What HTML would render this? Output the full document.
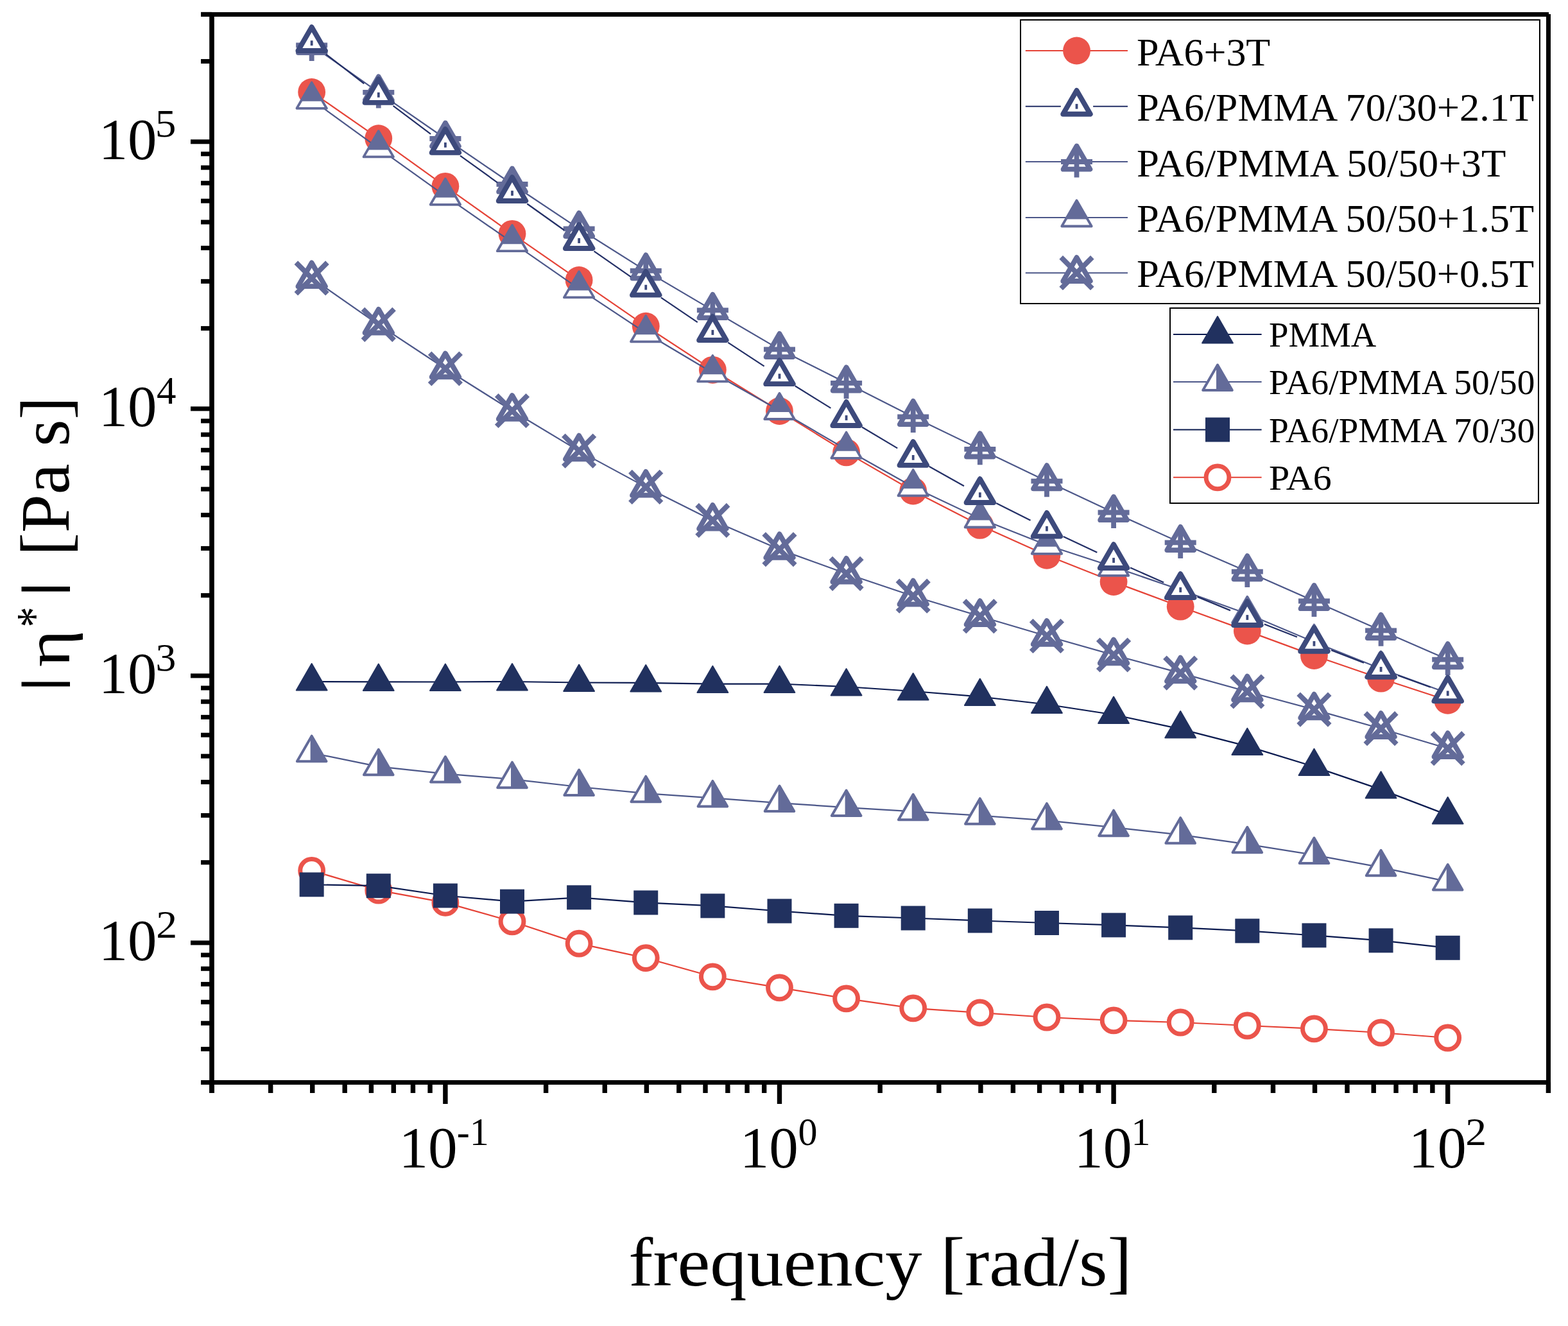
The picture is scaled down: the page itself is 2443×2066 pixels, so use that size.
<!DOCTYPE html>
<html><head><meta charset="utf-8"><title>Complex viscosity vs frequency</title>
<style>html,body{margin:0;padding:0;background:#fff;}svg{display:block;}</style></head>
<body>
<svg width="2443" height="2066" viewBox="0 0 2443 2066" font-family="'Liberation Serif', serif">
<rect width="2443" height="2066" fill="#fff"/>
<polyline points="485.64,1062 589.76,1062.4 693.88,1062.5 798,1062 902.12,1063.5 1006.24,1063.9 1110.36,1065.6 1214.48,1065.5 1318.6,1070 1422.72,1077 1526.84,1085.5 1630.96,1097.5 1735.08,1113.5 1839.2,1135.9 1943.32,1162.6 2047.44,1194.6 2151.56,1230.1 2255.68,1269.9" fill="none" stroke="#0b1a4f" stroke-width="2.2" stroke-linejoin="round"/>
<polygon points="485.64,1034.1 509.55,1075.5 461.74,1075.5" fill="#21315f" stroke="#21315f" stroke-width="2" stroke-linejoin="round"/><polygon points="589.76,1034.5 613.67,1075.9 565.86,1075.9" fill="#21315f" stroke="#21315f" stroke-width="2" stroke-linejoin="round"/><polygon points="693.88,1034.6 717.79,1076 669.98,1076" fill="#21315f" stroke="#21315f" stroke-width="2" stroke-linejoin="round"/><polygon points="798,1034.1 821.91,1075.5 774.1,1075.5" fill="#21315f" stroke="#21315f" stroke-width="2" stroke-linejoin="round"/><polygon points="902.12,1035.6 926.03,1077 878.22,1077" fill="#21315f" stroke="#21315f" stroke-width="2" stroke-linejoin="round"/><polygon points="1006.24,1036 1030.15,1077.4 982.34,1077.4" fill="#21315f" stroke="#21315f" stroke-width="2" stroke-linejoin="round"/><polygon points="1110.36,1037.7 1134.27,1079.1 1086.46,1079.1" fill="#21315f" stroke="#21315f" stroke-width="2" stroke-linejoin="round"/><polygon points="1214.48,1037.6 1238.39,1079 1190.58,1079" fill="#21315f" stroke="#21315f" stroke-width="2" stroke-linejoin="round"/><polygon points="1318.6,1042.1 1342.51,1083.5 1294.7,1083.5" fill="#21315f" stroke="#21315f" stroke-width="2" stroke-linejoin="round"/><polygon points="1422.72,1049.1 1446.63,1090.5 1398.82,1090.5" fill="#21315f" stroke="#21315f" stroke-width="2" stroke-linejoin="round"/><polygon points="1526.84,1057.6 1550.75,1099 1502.94,1099" fill="#21315f" stroke="#21315f" stroke-width="2" stroke-linejoin="round"/><polygon points="1630.96,1069.6 1654.87,1111 1607.06,1111" fill="#21315f" stroke="#21315f" stroke-width="2" stroke-linejoin="round"/><polygon points="1735.08,1085.6 1758.99,1127 1711.18,1127" fill="#21315f" stroke="#21315f" stroke-width="2" stroke-linejoin="round"/><polygon points="1839.2,1108 1863.11,1149.4 1815.3,1149.4" fill="#21315f" stroke="#21315f" stroke-width="2" stroke-linejoin="round"/><polygon points="1943.32,1134.7 1967.23,1176.1 1919.42,1176.1" fill="#21315f" stroke="#21315f" stroke-width="2" stroke-linejoin="round"/><polygon points="2047.44,1166.7 2071.35,1208.1 2023.54,1208.1" fill="#21315f" stroke="#21315f" stroke-width="2" stroke-linejoin="round"/><polygon points="2151.56,1202.2 2175.47,1243.6 2127.66,1243.6" fill="#21315f" stroke="#21315f" stroke-width="2" stroke-linejoin="round"/><polygon points="2255.68,1242 2279.59,1283.4 2231.78,1283.4" fill="#21315f" stroke="#21315f" stroke-width="2" stroke-linejoin="round"/>
<polyline points="485.64,1173.2 589.76,1194.3 693.88,1205.6 798,1214.2 902.12,1226 1006.24,1236.2 1110.36,1243.4 1214.48,1251.1 1318.6,1258.1 1422.72,1264.3 1526.84,1270.7 1630.96,1278.4 1735.08,1289.2 1839.2,1300.7 1943.32,1315.3 2047.44,1332.1 2151.56,1351.3 2255.68,1373.6" fill="none" stroke="#4c5789" stroke-width="2.2" stroke-linejoin="round"/>
<polygon points="485.64,1146.7 508.45,1186.2 462.84,1186.2" fill="#fff" stroke="#636b99" stroke-width="4" stroke-linejoin="round"/><polygon points="483.64,1150.16 485.64,1146.7 508.45,1186.2 483.64,1186.2" fill="#636b99"/><polygon points="589.76,1167.8 612.57,1207.3 566.96,1207.3" fill="#fff" stroke="#636b99" stroke-width="4" stroke-linejoin="round"/><polygon points="587.76,1171.26 589.76,1167.8 612.57,1207.3 587.76,1207.3" fill="#636b99"/><polygon points="693.88,1179.1 716.69,1218.6 671.08,1218.6" fill="#fff" stroke="#636b99" stroke-width="4" stroke-linejoin="round"/><polygon points="691.88,1182.56 693.88,1179.1 716.69,1218.6 691.88,1218.6" fill="#636b99"/><polygon points="798,1187.7 820.81,1227.2 775.2,1227.2" fill="#fff" stroke="#636b99" stroke-width="4" stroke-linejoin="round"/><polygon points="796,1191.16 798,1187.7 820.81,1227.2 796,1227.2" fill="#636b99"/><polygon points="902.12,1199.5 924.93,1239 879.32,1239" fill="#fff" stroke="#636b99" stroke-width="4" stroke-linejoin="round"/><polygon points="900.12,1202.96 902.12,1199.5 924.93,1239 900.12,1239" fill="#636b99"/><polygon points="1006.24,1209.7 1029.05,1249.2 983.44,1249.2" fill="#fff" stroke="#636b99" stroke-width="4" stroke-linejoin="round"/><polygon points="1004.24,1213.16 1006.24,1209.7 1029.05,1249.2 1004.24,1249.2" fill="#636b99"/><polygon points="1110.36,1216.9 1133.17,1256.4 1087.56,1256.4" fill="#fff" stroke="#636b99" stroke-width="4" stroke-linejoin="round"/><polygon points="1108.36,1220.36 1110.36,1216.9 1133.17,1256.4 1108.36,1256.4" fill="#636b99"/><polygon points="1214.48,1224.6 1237.29,1264.1 1191.68,1264.1" fill="#fff" stroke="#636b99" stroke-width="4" stroke-linejoin="round"/><polygon points="1212.48,1228.06 1214.48,1224.6 1237.29,1264.1 1212.48,1264.1" fill="#636b99"/><polygon points="1318.6,1231.6 1341.41,1271.1 1295.8,1271.1" fill="#fff" stroke="#636b99" stroke-width="4" stroke-linejoin="round"/><polygon points="1316.6,1235.06 1318.6,1231.6 1341.41,1271.1 1316.6,1271.1" fill="#636b99"/><polygon points="1422.72,1237.8 1445.53,1277.3 1399.92,1277.3" fill="#fff" stroke="#636b99" stroke-width="4" stroke-linejoin="round"/><polygon points="1420.72,1241.26 1422.72,1237.8 1445.53,1277.3 1420.72,1277.3" fill="#636b99"/><polygon points="1526.84,1244.2 1549.65,1283.7 1504.04,1283.7" fill="#fff" stroke="#636b99" stroke-width="4" stroke-linejoin="round"/><polygon points="1524.84,1247.66 1526.84,1244.2 1549.65,1283.7 1524.84,1283.7" fill="#636b99"/><polygon points="1630.96,1251.9 1653.77,1291.4 1608.16,1291.4" fill="#fff" stroke="#636b99" stroke-width="4" stroke-linejoin="round"/><polygon points="1628.96,1255.36 1630.96,1251.9 1653.77,1291.4 1628.96,1291.4" fill="#636b99"/><polygon points="1735.08,1262.7 1757.89,1302.2 1712.28,1302.2" fill="#fff" stroke="#636b99" stroke-width="4" stroke-linejoin="round"/><polygon points="1733.08,1266.16 1735.08,1262.7 1757.89,1302.2 1733.08,1302.2" fill="#636b99"/><polygon points="1839.2,1274.2 1862.01,1313.7 1816.4,1313.7" fill="#fff" stroke="#636b99" stroke-width="4" stroke-linejoin="round"/><polygon points="1837.2,1277.66 1839.2,1274.2 1862.01,1313.7 1837.2,1313.7" fill="#636b99"/><polygon points="1943.32,1288.8 1966.13,1328.3 1920.52,1328.3" fill="#fff" stroke="#636b99" stroke-width="4" stroke-linejoin="round"/><polygon points="1941.32,1292.26 1943.32,1288.8 1966.13,1328.3 1941.32,1328.3" fill="#636b99"/><polygon points="2047.44,1305.6 2070.25,1345.1 2024.64,1345.1" fill="#fff" stroke="#636b99" stroke-width="4" stroke-linejoin="round"/><polygon points="2045.44,1309.06 2047.44,1305.6 2070.25,1345.1 2045.44,1345.1" fill="#636b99"/><polygon points="2151.56,1324.8 2174.37,1364.3 2128.76,1364.3" fill="#fff" stroke="#636b99" stroke-width="4" stroke-linejoin="round"/><polygon points="2149.56,1328.26 2151.56,1324.8 2174.37,1364.3 2149.56,1364.3" fill="#636b99"/><polygon points="2255.68,1347.1 2278.49,1386.6 2232.88,1386.6" fill="#fff" stroke="#636b99" stroke-width="4" stroke-linejoin="round"/><polygon points="2253.68,1350.56 2255.68,1347.1 2278.49,1386.6 2253.68,1386.6" fill="#636b99"/>
<polyline points="485.64,1356.4 589.76,1387.2 693.88,1406.4 798,1435.8 902.12,1470.1 1006.24,1492.6 1110.36,1521.8 1214.48,1538.8 1318.6,1555.8 1422.72,1570.8 1526.84,1577.9 1630.96,1585 1735.08,1589.8 1839.2,1593 1943.32,1598 2047.44,1602.8 2151.56,1609 2255.68,1617" fill="none" stroke="#e54236" stroke-width="2.2" stroke-linejoin="round"/>
<circle cx="485.64" cy="1356.4" r="17.9" fill="#fff" stroke="#eb544b" stroke-width="7"/><circle cx="589.76" cy="1387.2" r="17.9" fill="#fff" stroke="#eb544b" stroke-width="7"/><circle cx="693.88" cy="1406.4" r="17.9" fill="#fff" stroke="#eb544b" stroke-width="7"/><circle cx="798" cy="1435.8" r="17.9" fill="#fff" stroke="#eb544b" stroke-width="7"/><circle cx="902.12" cy="1470.1" r="17.9" fill="#fff" stroke="#eb544b" stroke-width="7"/><circle cx="1006.24" cy="1492.6" r="17.9" fill="#fff" stroke="#eb544b" stroke-width="7"/><circle cx="1110.36" cy="1521.8" r="17.9" fill="#fff" stroke="#eb544b" stroke-width="7"/><circle cx="1214.48" cy="1538.8" r="17.9" fill="#fff" stroke="#eb544b" stroke-width="7"/><circle cx="1318.6" cy="1555.8" r="17.9" fill="#fff" stroke="#eb544b" stroke-width="7"/><circle cx="1422.72" cy="1570.8" r="17.9" fill="#fff" stroke="#eb544b" stroke-width="7"/><circle cx="1526.84" cy="1577.9" r="17.9" fill="#fff" stroke="#eb544b" stroke-width="7"/><circle cx="1630.96" cy="1585" r="17.9" fill="#fff" stroke="#eb544b" stroke-width="7"/><circle cx="1735.08" cy="1589.8" r="17.9" fill="#fff" stroke="#eb544b" stroke-width="7"/><circle cx="1839.2" cy="1593" r="17.9" fill="#fff" stroke="#eb544b" stroke-width="7"/><circle cx="1943.32" cy="1598" r="17.9" fill="#fff" stroke="#eb544b" stroke-width="7"/><circle cx="2047.44" cy="1602.8" r="17.9" fill="#fff" stroke="#eb544b" stroke-width="7"/><circle cx="2151.56" cy="1609" r="17.9" fill="#fff" stroke="#eb544b" stroke-width="7"/><circle cx="2255.68" cy="1617" r="17.9" fill="#fff" stroke="#eb544b" stroke-width="7"/>
<polyline points="485.64,1378.3 589.76,1380.2 693.88,1395.5 798,1404.6 902.12,1398.3 1006.24,1406.4 1110.36,1411.4 1214.48,1419.5 1318.6,1426.8 1422.72,1430.5 1526.84,1434.5 1630.96,1438 1735.08,1441.4 1839.2,1445.4 1943.32,1450.4 2047.44,1457.4 2151.56,1465.4 2255.68,1476.8" fill="none" stroke="#0b1a4f" stroke-width="2.2" stroke-linejoin="round"/>
<rect x="466.64" y="1359.3" width="38" height="38" fill="#21315f"/><rect x="570.76" y="1361.2" width="38" height="38" fill="#21315f"/><rect x="674.88" y="1376.5" width="38" height="38" fill="#21315f"/><rect x="779" y="1385.6" width="38" height="38" fill="#21315f"/><rect x="883.12" y="1379.3" width="38" height="38" fill="#21315f"/><rect x="987.24" y="1387.4" width="38" height="38" fill="#21315f"/><rect x="1091.36" y="1392.4" width="38" height="38" fill="#21315f"/><rect x="1195.48" y="1400.5" width="38" height="38" fill="#21315f"/><rect x="1299.6" y="1407.8" width="38" height="38" fill="#21315f"/><rect x="1403.72" y="1411.5" width="38" height="38" fill="#21315f"/><rect x="1507.84" y="1415.5" width="38" height="38" fill="#21315f"/><rect x="1611.96" y="1419" width="38" height="38" fill="#21315f"/><rect x="1716.08" y="1422.4" width="38" height="38" fill="#21315f"/><rect x="1820.2" y="1426.4" width="38" height="38" fill="#21315f"/><rect x="1924.32" y="1431.4" width="38" height="38" fill="#21315f"/><rect x="2028.44" y="1438.4" width="38" height="38" fill="#21315f"/><rect x="2132.56" y="1446.4" width="38" height="38" fill="#21315f"/><rect x="2236.68" y="1457.8" width="38" height="38" fill="#21315f"/>
<polyline points="485.64,143.4 589.76,215.7 693.88,290.3 798,364.3 902.12,436.4 1006.24,508.2 1110.36,576.3 1214.48,640.5 1318.6,704.9 1422.72,765 1526.84,818.4 1630.96,865.3 1735.08,906.6 1839.2,945.2 1943.32,983.1 2047.44,1021.5 2151.56,1057.2 2255.68,1091.3" fill="none" stroke="#e54236" stroke-width="2.2" stroke-linejoin="round"/>
<circle cx="485.64" cy="143.4" r="21.4" fill="#eb544b"/><circle cx="589.76" cy="215.7" r="21.4" fill="#eb544b"/><circle cx="693.88" cy="290.3" r="21.4" fill="#eb544b"/><circle cx="798" cy="364.3" r="21.4" fill="#eb544b"/><circle cx="902.12" cy="436.4" r="21.4" fill="#eb544b"/><circle cx="1006.24" cy="508.2" r="21.4" fill="#eb544b"/><circle cx="1110.36" cy="576.3" r="21.4" fill="#eb544b"/><circle cx="1214.48" cy="640.5" r="21.4" fill="#eb544b"/><circle cx="1318.6" cy="704.9" r="21.4" fill="#eb544b"/><circle cx="1422.72" cy="765" r="21.4" fill="#eb544b"/><circle cx="1526.84" cy="818.4" r="21.4" fill="#eb544b"/><circle cx="1630.96" cy="865.3" r="21.4" fill="#eb544b"/><circle cx="1735.08" cy="906.6" r="21.4" fill="#eb544b"/><circle cx="1839.2" cy="945.2" r="21.4" fill="#eb544b"/><circle cx="1943.32" cy="983.1" r="21.4" fill="#eb544b"/><circle cx="2047.44" cy="1021.5" r="21.4" fill="#eb544b"/><circle cx="2151.56" cy="1057.2" r="21.4" fill="#eb544b"/><circle cx="2255.68" cy="1091.3" r="21.4" fill="#eb544b"/>
<polyline points="485.64,70.4 589.76,143.9 693.88,216 798,287 902.12,356.3 1006.24,421.9 1110.36,483.4 1214.48,544.4 1318.6,596.8 1422.72,649.4 1526.84,699.8 1630.96,749.7 1735.08,798.5 1839.2,845.4 1943.32,890.6 2047.44,936.5 2151.56,982.3 2255.68,1027.6" fill="none" stroke="#4c5789" stroke-width="2.2" stroke-linejoin="round"/>
<polygon points="485.64,45.9 506.54,82.1 464.74,82.1" fill="#fff" stroke="#636b99" stroke-width="7.8" stroke-linejoin="round"/><path d="M461.14 70.4H510.14M485.64 45.9V94.9" stroke="#636b99" stroke-width="7.8"/><polygon points="589.76,119.4 610.66,155.6 568.86,155.6" fill="#fff" stroke="#636b99" stroke-width="7.8" stroke-linejoin="round"/><path d="M565.26 143.9H614.26M589.76 119.4V168.4" stroke="#636b99" stroke-width="7.8"/><polygon points="693.88,191.5 714.78,227.7 672.98,227.7" fill="#fff" stroke="#636b99" stroke-width="7.8" stroke-linejoin="round"/><path d="M669.38 216H718.38M693.88 191.5V240.5" stroke="#636b99" stroke-width="7.8"/><polygon points="798,262.5 818.9,298.7 777.1,298.7" fill="#fff" stroke="#636b99" stroke-width="7.8" stroke-linejoin="round"/><path d="M773.5 287H822.5M798 262.5V311.5" stroke="#636b99" stroke-width="7.8"/><polygon points="902.12,331.8 923.02,368 881.22,368" fill="#fff" stroke="#636b99" stroke-width="7.8" stroke-linejoin="round"/><path d="M877.62 356.3H926.62M902.12 331.8V380.8" stroke="#636b99" stroke-width="7.8"/><polygon points="1006.24,397.4 1027.14,433.6 985.34,433.6" fill="#fff" stroke="#636b99" stroke-width="7.8" stroke-linejoin="round"/><path d="M981.74 421.9H1030.74M1006.24 397.4V446.4" stroke="#636b99" stroke-width="7.8"/><polygon points="1110.36,458.9 1131.26,495.1 1089.46,495.1" fill="#fff" stroke="#636b99" stroke-width="7.8" stroke-linejoin="round"/><path d="M1085.86 483.4H1134.86M1110.36 458.9V507.9" stroke="#636b99" stroke-width="7.8"/><polygon points="1214.48,519.9 1235.38,556.1 1193.58,556.1" fill="#fff" stroke="#636b99" stroke-width="7.8" stroke-linejoin="round"/><path d="M1189.98 544.4H1238.98M1214.48 519.9V568.9" stroke="#636b99" stroke-width="7.8"/><polygon points="1318.6,572.3 1339.5,608.5 1297.7,608.5" fill="#fff" stroke="#636b99" stroke-width="7.8" stroke-linejoin="round"/><path d="M1294.1 596.8H1343.1M1318.6 572.3V621.3" stroke="#636b99" stroke-width="7.8"/><polygon points="1422.72,624.9 1443.62,661.1 1401.82,661.1" fill="#fff" stroke="#636b99" stroke-width="7.8" stroke-linejoin="round"/><path d="M1398.22 649.4H1447.22M1422.72 624.9V673.9" stroke="#636b99" stroke-width="7.8"/><polygon points="1526.84,675.3 1547.74,711.5 1505.94,711.5" fill="#fff" stroke="#636b99" stroke-width="7.8" stroke-linejoin="round"/><path d="M1502.34 699.8H1551.34M1526.84 675.3V724.3" stroke="#636b99" stroke-width="7.8"/><polygon points="1630.96,725.2 1651.86,761.4 1610.06,761.4" fill="#fff" stroke="#636b99" stroke-width="7.8" stroke-linejoin="round"/><path d="M1606.46 749.7H1655.46M1630.96 725.2V774.2" stroke="#636b99" stroke-width="7.8"/><polygon points="1735.08,774 1755.98,810.2 1714.18,810.2" fill="#fff" stroke="#636b99" stroke-width="7.8" stroke-linejoin="round"/><path d="M1710.58 798.5H1759.58M1735.08 774V823" stroke="#636b99" stroke-width="7.8"/><polygon points="1839.2,820.9 1860.1,857.1 1818.3,857.1" fill="#fff" stroke="#636b99" stroke-width="7.8" stroke-linejoin="round"/><path d="M1814.7 845.4H1863.7M1839.2 820.9V869.9" stroke="#636b99" stroke-width="7.8"/><polygon points="1943.32,866.1 1964.22,902.3 1922.42,902.3" fill="#fff" stroke="#636b99" stroke-width="7.8" stroke-linejoin="round"/><path d="M1918.82 890.6H1967.82M1943.32 866.1V915.1" stroke="#636b99" stroke-width="7.8"/><polygon points="2047.44,912 2068.34,948.2 2026.54,948.2" fill="#fff" stroke="#636b99" stroke-width="7.8" stroke-linejoin="round"/><path d="M2022.94 936.5H2071.94M2047.44 912V961" stroke="#636b99" stroke-width="7.8"/><polygon points="2151.56,957.8 2172.46,994 2130.66,994" fill="#fff" stroke="#636b99" stroke-width="7.8" stroke-linejoin="round"/><path d="M2127.06 982.3H2176.06M2151.56 957.8V1006.8" stroke="#636b99" stroke-width="7.8"/><polygon points="2255.68,1003.1 2276.58,1039.3 2234.78,1039.3" fill="#fff" stroke="#636b99" stroke-width="7.8" stroke-linejoin="round"/><path d="M2231.18 1027.6H2280.18M2255.68 1003.1V1052.1" stroke="#636b99" stroke-width="7.8"/>
<polyline points="485.64,155.3 589.76,230.9 693.88,305.3 798,377.7 902.12,449.9 1006.24,518.8 1110.36,580.8 1214.48,639.5 1318.6,700.3 1422.72,758.8 1526.84,808 1630.96,849.3 1735.08,883.3 1839.2,919 1943.32,956.5 2047.44,1000.3 2151.56,1042 2255.68,1080" fill="none" stroke="#4c5789" stroke-width="2.2" stroke-linejoin="round"/>
<polygon points="485.64,128.6 508.85,168.8 462.43,168.8" fill="#fff" stroke="#636b99" stroke-width="3.8" stroke-linejoin="round"/><polygon points="485.64,128.6 502.5,157.8 468.79,157.8" fill="#636b99"/><polygon points="589.76,204.2 612.97,244.4 566.55,244.4" fill="#fff" stroke="#636b99" stroke-width="3.8" stroke-linejoin="round"/><polygon points="589.76,204.2 606.62,233.4 572.91,233.4" fill="#636b99"/><polygon points="693.88,278.6 717.09,318.8 670.67,318.8" fill="#fff" stroke="#636b99" stroke-width="3.8" stroke-linejoin="round"/><polygon points="693.88,278.6 710.74,307.8 677.03,307.8" fill="#636b99"/><polygon points="798,351 821.21,391.2 774.79,391.2" fill="#fff" stroke="#636b99" stroke-width="3.8" stroke-linejoin="round"/><polygon points="798,351 814.86,380.2 781.15,380.2" fill="#636b99"/><polygon points="902.12,423.2 925.33,463.4 878.91,463.4" fill="#fff" stroke="#636b99" stroke-width="3.8" stroke-linejoin="round"/><polygon points="902.12,423.2 918.98,452.4 885.27,452.4" fill="#636b99"/><polygon points="1006.24,492.1 1029.45,532.3 983.03,532.3" fill="#fff" stroke="#636b99" stroke-width="3.8" stroke-linejoin="round"/><polygon points="1006.24,492.1 1023.1,521.3 989.39,521.3" fill="#636b99"/><polygon points="1110.36,554.1 1133.57,594.3 1087.15,594.3" fill="#fff" stroke="#636b99" stroke-width="3.8" stroke-linejoin="round"/><polygon points="1110.36,554.1 1127.22,583.3 1093.51,583.3" fill="#636b99"/><polygon points="1214.48,612.8 1237.69,653 1191.27,653" fill="#fff" stroke="#636b99" stroke-width="3.8" stroke-linejoin="round"/><polygon points="1214.48,612.8 1231.34,642 1197.63,642" fill="#636b99"/><polygon points="1318.6,673.6 1341.81,713.8 1295.39,713.8" fill="#fff" stroke="#636b99" stroke-width="3.8" stroke-linejoin="round"/><polygon points="1318.6,673.6 1335.46,702.8 1301.75,702.8" fill="#636b99"/><polygon points="1422.72,732.1 1445.93,772.3 1399.51,772.3" fill="#fff" stroke="#636b99" stroke-width="3.8" stroke-linejoin="round"/><polygon points="1422.72,732.1 1439.58,761.3 1405.87,761.3" fill="#636b99"/><polygon points="1526.84,781.3 1550.05,821.5 1503.63,821.5" fill="#fff" stroke="#636b99" stroke-width="3.8" stroke-linejoin="round"/><polygon points="1526.84,781.3 1543.7,810.5 1509.99,810.5" fill="#636b99"/><polygon points="1630.96,822.6 1654.17,862.8 1607.75,862.8" fill="#fff" stroke="#636b99" stroke-width="3.8" stroke-linejoin="round"/><polygon points="1630.96,822.6 1647.82,851.8 1614.11,851.8" fill="#636b99"/><polygon points="1735.08,856.6 1758.29,896.8 1711.87,896.8" fill="#fff" stroke="#636b99" stroke-width="3.8" stroke-linejoin="round"/><polygon points="1735.08,856.6 1751.94,885.8 1718.23,885.8" fill="#636b99"/><polygon points="1839.2,892.3 1862.41,932.5 1815.99,932.5" fill="#fff" stroke="#636b99" stroke-width="3.8" stroke-linejoin="round"/><polygon points="1839.2,892.3 1856.06,921.5 1822.35,921.5" fill="#636b99"/><polygon points="1943.32,929.8 1966.53,970 1920.11,970" fill="#fff" stroke="#636b99" stroke-width="3.8" stroke-linejoin="round"/><polygon points="1943.32,929.8 1960.18,959 1926.47,959" fill="#636b99"/><polygon points="2047.44,973.6 2070.65,1013.8 2024.23,1013.8" fill="#fff" stroke="#636b99" stroke-width="3.8" stroke-linejoin="round"/><polygon points="2047.44,973.6 2064.3,1002.8 2030.59,1002.8" fill="#636b99"/><polygon points="2151.56,1015.3 2174.77,1055.5 2128.35,1055.5" fill="#fff" stroke="#636b99" stroke-width="3.8" stroke-linejoin="round"/><polygon points="2151.56,1015.3 2168.42,1044.5 2134.71,1044.5" fill="#636b99"/><polygon points="2255.68,1053.3 2278.89,1093.5 2232.47,1093.5" fill="#fff" stroke="#636b99" stroke-width="3.8" stroke-linejoin="round"/><polygon points="2255.68,1053.3 2272.54,1082.5 2238.83,1082.5" fill="#636b99"/>
<polyline points="485.64,433.4 589.76,505.8 693.88,574.5 798,640 902.12,702.6 1006.24,758.9 1110.36,810.9 1214.48,856.1 1318.6,893.8 1422.72,928.7 1526.84,960.2 1630.96,991 1735.08,1020.5 1839.2,1048.6 1943.32,1077.5 2047.44,1105.6 2151.56,1135.2 2255.68,1166.2" fill="none" stroke="#4c5789" stroke-width="2.2" stroke-linejoin="round"/>
<polygon points="485.64,409.45 506.83,446.15 464.46,446.15" fill="#fff" stroke="#636b99" stroke-width="7.9" stroke-linejoin="round"/><path d="M461.34 409.1L509.94 457.7M461.34 457.7L509.94 409.1" stroke="#636b99" stroke-width="7.9"/><polygon points="589.76,481.85 610.95,518.55 568.58,518.55" fill="#fff" stroke="#636b99" stroke-width="7.9" stroke-linejoin="round"/><path d="M565.46 481.5L614.06 530.1M565.46 530.1L614.06 481.5" stroke="#636b99" stroke-width="7.9"/><polygon points="693.88,550.55 715.07,587.25 672.7,587.25" fill="#fff" stroke="#636b99" stroke-width="7.9" stroke-linejoin="round"/><path d="M669.58 550.2L718.18 598.8M669.58 598.8L718.18 550.2" stroke="#636b99" stroke-width="7.9"/><polygon points="798,616.05 819.19,652.75 776.82,652.75" fill="#fff" stroke="#636b99" stroke-width="7.9" stroke-linejoin="round"/><path d="M773.7 615.7L822.3 664.3M773.7 664.3L822.3 615.7" stroke="#636b99" stroke-width="7.9"/><polygon points="902.12,678.65 923.31,715.35 880.94,715.35" fill="#fff" stroke="#636b99" stroke-width="7.9" stroke-linejoin="round"/><path d="M877.82 678.3L926.42 726.9M877.82 726.9L926.42 678.3" stroke="#636b99" stroke-width="7.9"/><polygon points="1006.24,734.95 1027.43,771.65 985.06,771.65" fill="#fff" stroke="#636b99" stroke-width="7.9" stroke-linejoin="round"/><path d="M981.94 734.6L1030.54 783.2M981.94 783.2L1030.54 734.6" stroke="#636b99" stroke-width="7.9"/><polygon points="1110.36,786.95 1131.55,823.65 1089.18,823.65" fill="#fff" stroke="#636b99" stroke-width="7.9" stroke-linejoin="round"/><path d="M1086.06 786.6L1134.66 835.2M1086.06 835.2L1134.66 786.6" stroke="#636b99" stroke-width="7.9"/><polygon points="1214.48,832.15 1235.67,868.85 1193.3,868.85" fill="#fff" stroke="#636b99" stroke-width="7.9" stroke-linejoin="round"/><path d="M1190.18 831.8L1238.78 880.4M1190.18 880.4L1238.78 831.8" stroke="#636b99" stroke-width="7.9"/><polygon points="1318.6,869.85 1339.79,906.55 1297.42,906.55" fill="#fff" stroke="#636b99" stroke-width="7.9" stroke-linejoin="round"/><path d="M1294.3 869.5L1342.9 918.1M1294.3 918.1L1342.9 869.5" stroke="#636b99" stroke-width="7.9"/><polygon points="1422.72,904.75 1443.91,941.45 1401.54,941.45" fill="#fff" stroke="#636b99" stroke-width="7.9" stroke-linejoin="round"/><path d="M1398.42 904.4L1447.02 953M1398.42 953L1447.02 904.4" stroke="#636b99" stroke-width="7.9"/><polygon points="1526.84,936.25 1548.03,972.95 1505.66,972.95" fill="#fff" stroke="#636b99" stroke-width="7.9" stroke-linejoin="round"/><path d="M1502.54 935.9L1551.14 984.5M1502.54 984.5L1551.14 935.9" stroke="#636b99" stroke-width="7.9"/><polygon points="1630.96,967.05 1652.15,1003.75 1609.78,1003.75" fill="#fff" stroke="#636b99" stroke-width="7.9" stroke-linejoin="round"/><path d="M1606.66 966.7L1655.26 1015.3M1606.66 1015.3L1655.26 966.7" stroke="#636b99" stroke-width="7.9"/><polygon points="1735.08,996.55 1756.27,1033.25 1713.9,1033.25" fill="#fff" stroke="#636b99" stroke-width="7.9" stroke-linejoin="round"/><path d="M1710.78 996.2L1759.38 1044.8M1710.78 1044.8L1759.38 996.2" stroke="#636b99" stroke-width="7.9"/><polygon points="1839.2,1024.65 1860.39,1061.35 1818.02,1061.35" fill="#fff" stroke="#636b99" stroke-width="7.9" stroke-linejoin="round"/><path d="M1814.9 1024.3L1863.5 1072.9M1814.9 1072.9L1863.5 1024.3" stroke="#636b99" stroke-width="7.9"/><polygon points="1943.32,1053.55 1964.51,1090.25 1922.14,1090.25" fill="#fff" stroke="#636b99" stroke-width="7.9" stroke-linejoin="round"/><path d="M1919.02 1053.2L1967.62 1101.8M1919.02 1101.8L1967.62 1053.2" stroke="#636b99" stroke-width="7.9"/><polygon points="2047.44,1081.65 2068.63,1118.35 2026.26,1118.35" fill="#fff" stroke="#636b99" stroke-width="7.9" stroke-linejoin="round"/><path d="M2023.14 1081.3L2071.74 1129.9M2023.14 1129.9L2071.74 1081.3" stroke="#636b99" stroke-width="7.9"/><polygon points="2151.56,1111.25 2172.75,1147.95 2130.38,1147.95" fill="#fff" stroke="#636b99" stroke-width="7.9" stroke-linejoin="round"/><path d="M2127.26 1110.9L2175.86 1159.5M2127.26 1159.5L2175.86 1110.9" stroke="#636b99" stroke-width="7.9"/><polygon points="2255.68,1142.25 2276.87,1178.95 2234.5,1178.95" fill="#fff" stroke="#636b99" stroke-width="7.9" stroke-linejoin="round"/><path d="M2231.38 1141.9L2279.98 1190.5M2231.38 1190.5L2279.98 1141.9" stroke="#636b99" stroke-width="7.9"/>
<path d="M508.16 84.57L567.25 130.43M612.57 164.99L671.07 208.81M717 242.57L774.89 284.33M821.23 317.51L878.89 358.49M925.49 391.32L982.88 431.38M1029.86 463.65L1086.74 502.05M1134.2 533.62L1190.64 570.58M1238.68 601.26L1294.41 635.94M1343.1 665.56L1398.23 698.34M1447.6 726.81L1501.97 757.19M1552.28 783.95L1605.53 810.85M1656.72 835.9L1709.33 860.8M1761.15 884.52L1813.13 907.48M1865.55 929.88L1916.98 951.12M1969.86 972.4L2020.91 992.4M2074.04 1013.04L2124.97 1032.66M2178.39 1052.53L2228.86 1070.67" fill="none" stroke="#232f66" stroke-width="2.2"/>
<polygon points="485.64,42.25 506.89,79.05 464.4,79.05" fill="#fff" stroke="#3d4a7c" stroke-width="7.9" stroke-linejoin="round"/><rect x="483.74" y="63.2" width="3.8" height="7.8" fill="#3d4a7c"/><polygon points="589.76,123.05 611.01,159.85 568.52,159.85" fill="#fff" stroke="#3d4a7c" stroke-width="7.9" stroke-linejoin="round"/><rect x="587.86" y="144" width="3.8" height="7.8" fill="#3d4a7c"/><polygon points="693.88,201.05 715.13,237.85 672.64,237.85" fill="#fff" stroke="#3d4a7c" stroke-width="7.9" stroke-linejoin="round"/><rect x="691.98" y="222" width="3.8" height="7.8" fill="#3d4a7c"/><polygon points="798,276.15 819.25,312.95 776.76,312.95" fill="#fff" stroke="#3d4a7c" stroke-width="7.9" stroke-linejoin="round"/><rect x="796.1" y="297.1" width="3.8" height="7.8" fill="#3d4a7c"/><polygon points="902.12,350.15 923.37,386.95 880.88,386.95" fill="#fff" stroke="#3d4a7c" stroke-width="7.9" stroke-linejoin="round"/><rect x="900.22" y="371.1" width="3.8" height="7.8" fill="#3d4a7c"/><polygon points="1006.24,422.85 1027.49,459.65 985,459.65" fill="#fff" stroke="#3d4a7c" stroke-width="7.9" stroke-linejoin="round"/><rect x="1004.34" y="443.8" width="3.8" height="7.8" fill="#3d4a7c"/><polygon points="1110.36,493.15 1131.61,529.95 1089.12,529.95" fill="#fff" stroke="#3d4a7c" stroke-width="7.9" stroke-linejoin="round"/><rect x="1108.46" y="514.1" width="3.8" height="7.8" fill="#3d4a7c"/><polygon points="1214.48,561.35 1235.73,598.15 1193.24,598.15" fill="#fff" stroke="#3d4a7c" stroke-width="7.9" stroke-linejoin="round"/><rect x="1212.58" y="582.3" width="3.8" height="7.8" fill="#3d4a7c"/><polygon points="1318.6,626.15 1339.85,662.95 1297.36,662.95" fill="#fff" stroke="#3d4a7c" stroke-width="7.9" stroke-linejoin="round"/><rect x="1316.7" y="647.1" width="3.8" height="7.8" fill="#3d4a7c"/><polygon points="1422.72,688.05 1443.97,724.85 1401.48,724.85" fill="#fff" stroke="#3d4a7c" stroke-width="7.9" stroke-linejoin="round"/><rect x="1420.82" y="709" width="3.8" height="7.8" fill="#3d4a7c"/><polygon points="1526.84,746.25 1548.09,783.05 1505.6,783.05" fill="#fff" stroke="#3d4a7c" stroke-width="7.9" stroke-linejoin="round"/><rect x="1524.94" y="767.2" width="3.8" height="7.8" fill="#3d4a7c"/><polygon points="1630.96,798.85 1652.21,835.65 1609.72,835.65" fill="#fff" stroke="#3d4a7c" stroke-width="7.9" stroke-linejoin="round"/><rect x="1629.06" y="819.8" width="3.8" height="7.8" fill="#3d4a7c"/><polygon points="1735.08,848.15 1756.33,884.95 1713.84,884.95" fill="#fff" stroke="#3d4a7c" stroke-width="7.9" stroke-linejoin="round"/><rect x="1733.18" y="869.1" width="3.8" height="7.8" fill="#3d4a7c"/><polygon points="1839.2,894.15 1860.45,930.95 1817.96,930.95" fill="#fff" stroke="#3d4a7c" stroke-width="7.9" stroke-linejoin="round"/><rect x="1837.3" y="915.1" width="3.8" height="7.8" fill="#3d4a7c"/><polygon points="1943.32,937.15 1964.57,973.95 1922.08,973.95" fill="#fff" stroke="#3d4a7c" stroke-width="7.9" stroke-linejoin="round"/><rect x="1941.42" y="958.1" width="3.8" height="7.8" fill="#3d4a7c"/><polygon points="2047.44,977.95 2068.69,1014.75 2026.2,1014.75" fill="#fff" stroke="#3d4a7c" stroke-width="7.9" stroke-linejoin="round"/><rect x="2045.54" y="998.9" width="3.8" height="7.8" fill="#3d4a7c"/><polygon points="2151.56,1018.05 2172.81,1054.85 2130.32,1054.85" fill="#fff" stroke="#3d4a7c" stroke-width="7.9" stroke-linejoin="round"/><rect x="2149.66" y="1039" width="3.8" height="7.8" fill="#3d4a7c"/><polygon points="2255.68,1055.45 2276.93,1092.25 2234.44,1092.25" fill="#fff" stroke="#3d4a7c" stroke-width="7.9" stroke-linejoin="round"/><rect x="2253.78" y="1076.4" width="3.8" height="7.8" fill="#3d4a7c"/>
<g fill="#000"><rect x="313" y="19" width="2100" height="7"/><rect x="326.2" y="19" width="7.6" height="1684"/><rect x="2409" y="22" width="7" height="1681"/><rect x="313" y="1683" width="2103" height="7"/><rect x="313" y="1683" width="17" height="7"/><rect x="313" y="1631.02" width="17" height="7"/><rect x="313" y="1590.7" width="17" height="7"/><rect x="313" y="1557.76" width="17" height="7"/><rect x="313" y="1529.9" width="17" height="7"/><rect x="313" y="1505.78" width="17" height="7"/><rect x="313" y="1484.49" width="17" height="7"/><rect x="297" y="1465.46" width="33" height="7"/><rect x="313" y="1340.21" width="17" height="7"/><rect x="313" y="1266.95" width="17" height="7"/><rect x="313" y="1214.97" width="17" height="7"/><rect x="313" y="1174.65" width="17" height="7"/><rect x="313" y="1141.71" width="17" height="7"/><rect x="313" y="1113.85" width="17" height="7"/><rect x="313" y="1089.73" width="17" height="7"/><rect x="313" y="1068.44" width="17" height="7"/><rect x="297" y="1049.41" width="33" height="7"/><rect x="313" y="924.16" width="17" height="7"/><rect x="313" y="850.9" width="17" height="7"/><rect x="313" y="798.92" width="17" height="7"/><rect x="313" y="758.6" width="17" height="7"/><rect x="313" y="725.66" width="17" height="7"/><rect x="313" y="697.8" width="17" height="7"/><rect x="313" y="673.68" width="17" height="7"/><rect x="313" y="652.39" width="17" height="7"/><rect x="297" y="633.36" width="33" height="7"/><rect x="313" y="508.11" width="17" height="7"/><rect x="313" y="434.85" width="17" height="7"/><rect x="313" y="382.87" width="17" height="7"/><rect x="313" y="342.55" width="17" height="7"/><rect x="313" y="309.61" width="17" height="7"/><rect x="313" y="281.75" width="17" height="7"/><rect x="313" y="257.63" width="17" height="7"/><rect x="313" y="236.34" width="17" height="7"/><rect x="297" y="217.31" width="33" height="7"/><rect x="313" y="92.06" width="17" height="7"/><rect x="313" y="18.8" width="17" height="7"/><rect x="326.3" y="1686.5" width="7.4" height="16.5"/><rect x="417.97" y="1686.5" width="7.4" height="16.5"/><rect x="483.02" y="1686.5" width="7.4" height="16.5"/><rect x="533.47" y="1686.5" width="7.4" height="16.5"/><rect x="574.69" y="1686.5" width="7.4" height="16.5"/><rect x="609.54" y="1686.5" width="7.4" height="16.5"/><rect x="639.73" y="1686.5" width="7.4" height="16.5"/><rect x="666.36" y="1686.5" width="7.4" height="16.5"/><rect x="690.18" y="1686.5" width="7.4" height="33.5"/><rect x="846.9" y="1686.5" width="7.4" height="16.5"/><rect x="938.57" y="1686.5" width="7.4" height="16.5"/><rect x="1003.62" y="1686.5" width="7.4" height="16.5"/><rect x="1054.07" y="1686.5" width="7.4" height="16.5"/><rect x="1095.29" y="1686.5" width="7.4" height="16.5"/><rect x="1130.14" y="1686.5" width="7.4" height="16.5"/><rect x="1160.33" y="1686.5" width="7.4" height="16.5"/><rect x="1186.96" y="1686.5" width="7.4" height="16.5"/><rect x="1210.78" y="1686.5" width="7.4" height="33.5"/><rect x="1367.5" y="1686.5" width="7.4" height="16.5"/><rect x="1459.17" y="1686.5" width="7.4" height="16.5"/><rect x="1524.22" y="1686.5" width="7.4" height="16.5"/><rect x="1574.67" y="1686.5" width="7.4" height="16.5"/><rect x="1615.89" y="1686.5" width="7.4" height="16.5"/><rect x="1650.74" y="1686.5" width="7.4" height="16.5"/><rect x="1680.93" y="1686.5" width="7.4" height="16.5"/><rect x="1707.56" y="1686.5" width="7.4" height="16.5"/><rect x="1731.38" y="1686.5" width="7.4" height="33.5"/><rect x="1888.1" y="1686.5" width="7.4" height="16.5"/><rect x="1979.77" y="1686.5" width="7.4" height="16.5"/><rect x="2044.82" y="1686.5" width="7.4" height="16.5"/><rect x="2095.27" y="1686.5" width="7.4" height="16.5"/><rect x="2136.49" y="1686.5" width="7.4" height="16.5"/><rect x="2171.34" y="1686.5" width="7.4" height="16.5"/><rect x="2201.53" y="1686.5" width="7.4" height="16.5"/><rect x="2228.16" y="1686.5" width="7.4" height="16.5"/><rect x="2251.98" y="1686.5" width="7.4" height="33.5"/><rect x="2408.7" y="1686.5" width="7.4" height="16.5"/></g>
<text x="153.74" y="247.81" font-size="90.9" textLength="90.69" lengthAdjust="spacingAndGlyphs">10</text>
<text x="241.89" y="212.81" font-size="62" textLength="32.62" lengthAdjust="spacingAndGlyphs">5</text>
<text x="153.74" y="663.86" font-size="90.9" textLength="90.69" lengthAdjust="spacingAndGlyphs">10</text>
<text x="243.88" y="628.86" font-size="62" textLength="30.43" lengthAdjust="spacingAndGlyphs">4</text>
<text x="153.74" y="1079.91" font-size="90.9" textLength="90.69" lengthAdjust="spacingAndGlyphs">10</text>
<text x="242.62" y="1044.91" font-size="62" textLength="31.83" lengthAdjust="spacingAndGlyphs">3</text>
<text x="153.74" y="1495.96" font-size="90.9" textLength="90.69" lengthAdjust="spacingAndGlyphs">10</text>
<text x="243.17" y="1460.96" font-size="62" textLength="32.88" lengthAdjust="spacingAndGlyphs">2</text>
<text x="621.49" y="1818.6" font-size="90.9" textLength="91.26" lengthAdjust="spacingAndGlyphs">10</text>
<text x="711.69" y="1784.2" font-size="62" textLength="50.1" lengthAdjust="spacingAndGlyphs">-1</text>
<text x="1152.71" y="1818.6" font-size="90.9" textLength="91.03" lengthAdjust="spacingAndGlyphs">10</text>
<text x="1243.4" y="1784.2" font-size="62" textLength="30" lengthAdjust="spacingAndGlyphs">0</text>
<text x="1673.81" y="1818.6" font-size="90.9" textLength="89.89" lengthAdjust="spacingAndGlyphs">10</text>
<text x="1762.6" y="1784.2" font-size="62" textLength="30" lengthAdjust="spacingAndGlyphs">1</text>
<text x="2194.81" y="1818.6" font-size="90.9" textLength="89.89" lengthAdjust="spacingAndGlyphs">10</text>
<text x="2283.17" y="1784.2" font-size="62" textLength="32.87" lengthAdjust="spacingAndGlyphs">2</text>
<text x="979.37" y="2003" font-size="108" textLength="784.29" lengthAdjust="spacingAndGlyphs">frequency [rad/s]</text>
<text transform="translate(90.5,1080) rotate(-90) scale(1.4000,0.8330)" font-size="100">|</text>
<text transform="translate(107.9,1039.3) rotate(-90) scale(1.1090,1.0000)" font-size="100">η</text>
<text transform="translate(79,977.3) rotate(-90) scale(0.6375,0.7890)" font-size="100">*</text>
<text transform="translate(90.5,932.6) rotate(-90) scale(1.4750,0.8330)" font-size="100">|</text>
<text transform="translate(107.3,865.9) rotate(-90) scale(1.0764,1.0720)" font-size="100">[Pa s]</text>
<rect x="1590" y="31" width="809" height="442" fill="#fff" stroke="#000" stroke-width="2"/>
<rect x="1823" y="480" width="574" height="304" fill="#fff" stroke="#000" stroke-width="2"/>
<path d="M1597.8 79H1757" stroke="#e54236" stroke-width="2.1"/>
<circle cx="1677.5" cy="79" r="21.4" fill="#eb544b"/>
<text x="1770.94" y="102.1" font-size="61.8" textLength="208.29" lengthAdjust="spacingAndGlyphs">PA6+3T</text>
<path d="M1597.8 165.8H1652.8M1703.1 165.8H1757" stroke="#232f66" stroke-width="2.1"/>
<polygon points="1677.5,140.95 1698.75,177.75 1656.25,177.75" fill="#fff" stroke="#3d4a7c" stroke-width="7.9" stroke-linejoin="round"/><rect x="1675.6" y="161.9" width="3.8" height="7.8" fill="#3d4a7c"/>
<text x="1770.93" y="187.8" font-size="61.8" textLength="619.23" lengthAdjust="spacingAndGlyphs">PA6/PMMA 70/30+2.1T</text>
<path d="M1597.8 252H1757" stroke="#4c5789" stroke-width="2.1"/>
<polygon points="1677.5,227.5 1698.4,263.7 1656.6,263.7" fill="#fff" stroke="#636b99" stroke-width="7.8" stroke-linejoin="round"/><path d="M1653 252H1702M1677.5 227.5V276.5" stroke="#636b99" stroke-width="7.8"/>
<text x="1770.92" y="275.2" font-size="61.8" textLength="575.45" lengthAdjust="spacingAndGlyphs">PA6/PMMA 50/50+3T</text>
<path d="M1597.8 339H1757" stroke="#4c5789" stroke-width="2.1"/>
<polygon points="1677.5,312.3 1700.71,352.5 1654.29,352.5" fill="#fff" stroke="#636b99" stroke-width="3.8" stroke-linejoin="round"/><polygon points="1677.5,312.3 1694.36,341.5 1660.64,341.5" fill="#636b99"/>
<text x="1770.93" y="360.9" font-size="61.8" textLength="619.23" lengthAdjust="spacingAndGlyphs">PA6/PMMA 50/50+1.5T</text>
<path d="M1597.8 425.2H1757" stroke="#4c5789" stroke-width="2.1"/>
<polygon points="1677.5,401.25 1698.69,437.95 1656.31,437.95" fill="#fff" stroke="#636b99" stroke-width="7.9" stroke-linejoin="round"/><path d="M1653.2 400.9L1701.8 449.5M1653.2 449.5L1701.8 400.9" stroke="#636b99" stroke-width="7.9"/>
<text x="1770.93" y="446.6" font-size="61.8" textLength="619.23" lengthAdjust="spacingAndGlyphs">PA6/PMMA 50/50+0.5T</text>
<path d="M1828 521H1965.6" stroke="#0b1a4f" stroke-width="2.1"/>
<polygon points="1897,493.1 1920.9,534.5 1873.1,534.5" fill="#21315f" stroke="#21315f" stroke-width="2" stroke-linejoin="round"/>
<text x="1977.06" y="540.2" font-size="54" textLength="167.31" lengthAdjust="spacingAndGlyphs">PMMA</text>
<path d="M1828 595H1965.6" stroke="#4c5789" stroke-width="2.1"/>
<polygon points="1897,568.5 1919.81,608 1874.19,608" fill="#fff" stroke="#636b99" stroke-width="4" stroke-linejoin="round"/><polygon points="1895,571.96 1897,568.5 1919.81,608 1895,608" fill="#636b99"/>
<text x="1977.04" y="613.9" font-size="54" textLength="414.28" lengthAdjust="spacingAndGlyphs">PA6/PMMA 50/50</text>
<path d="M1828 669.5H1965.6" stroke="#0b1a4f" stroke-width="2.1"/>
<rect x="1878" y="650.5" width="38" height="38" fill="#21315f"/>
<text x="1977.04" y="688.7" font-size="54" textLength="414.28" lengthAdjust="spacingAndGlyphs">PA6/PMMA 70/30</text>
<path d="M1828 743.8H1965.6" stroke="#e54236" stroke-width="2.1"/>
<circle cx="1897" cy="743.8" r="17.9" fill="#fff" stroke="#eb544b" stroke-width="7"/>
<text x="1976.96" y="763" font-size="54" textLength="97.68" lengthAdjust="spacingAndGlyphs">PA6</text>
</svg>
</body></html>
